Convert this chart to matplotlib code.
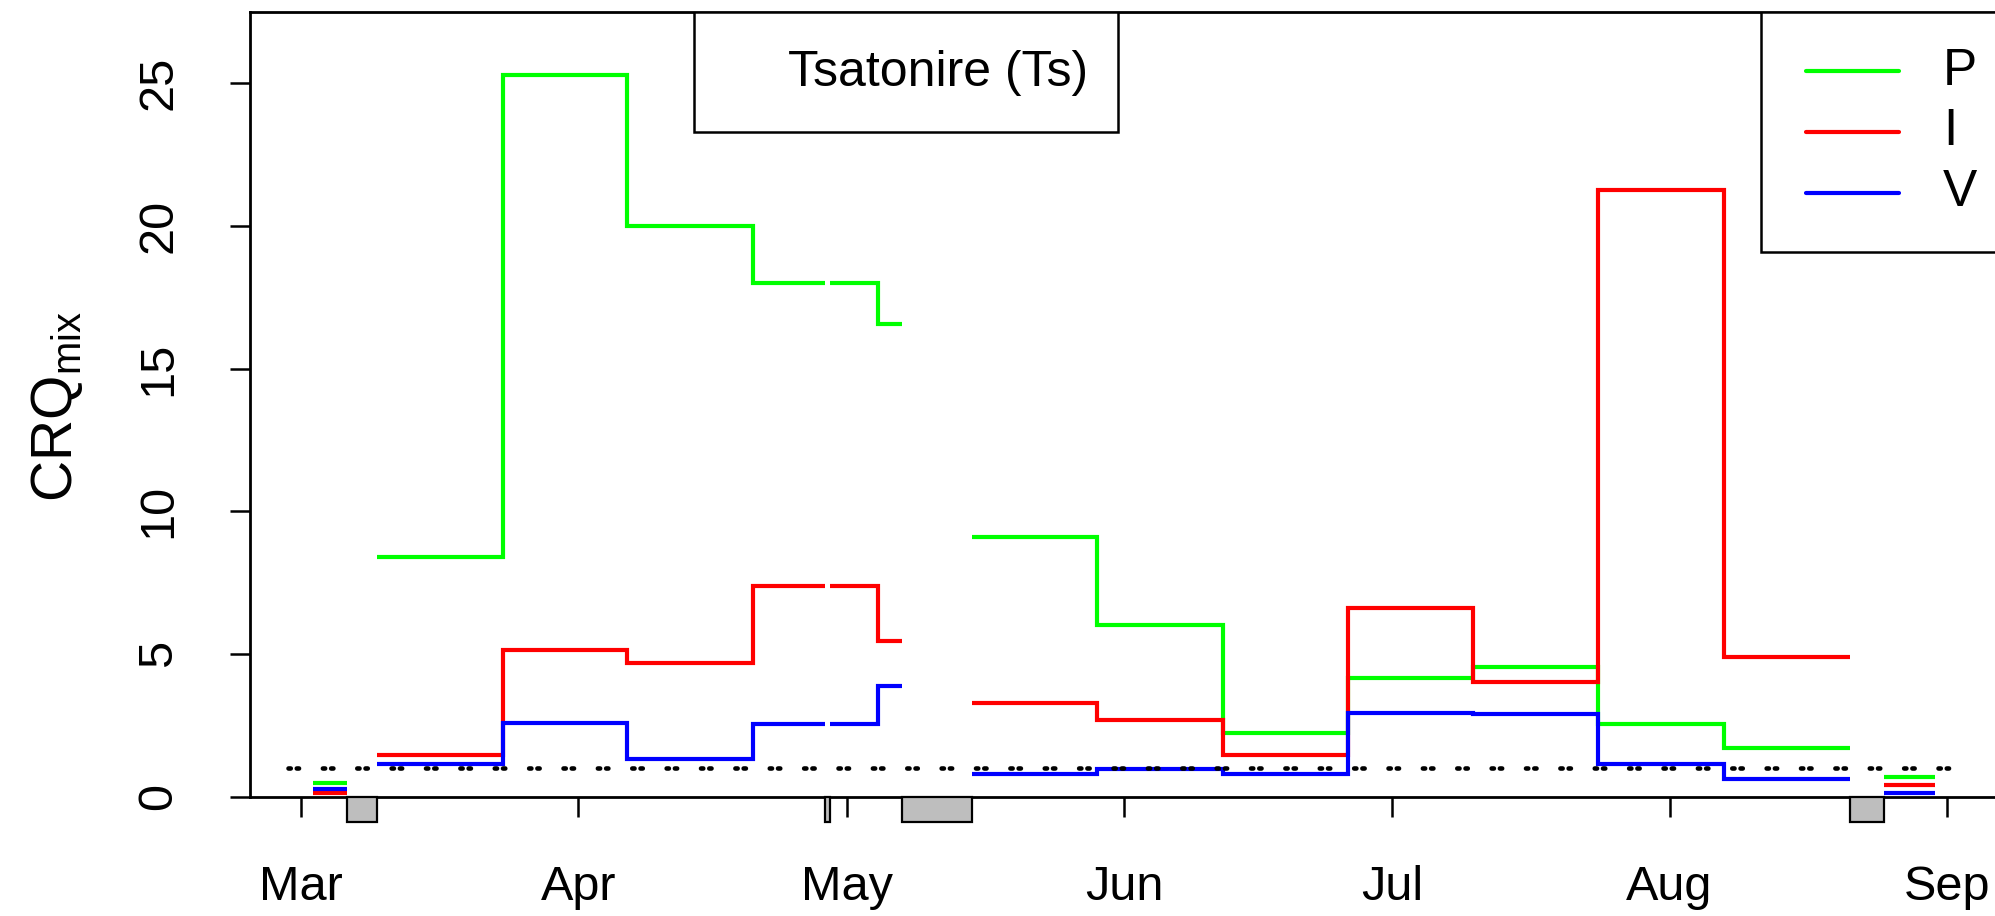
import numpy as np
import matplotlib
matplotlib.use('Agg')
import matplotlib.pyplot as plt
import matplotlib.dates as mdates
from matplotlib.patches import Rectangle

plt.rcParams['font.family'] = ['Liberation Sans', 'DejaVu Sans']
plt.rcParams['mathtext.fontset'] = 'custom'
plt.rcParams['mathtext.rm'] = 'Liberation Sans'
plt.rcParams['mathtext.it'] = 'Liberation Sans:italic'

season_start = np.datetime64('2019-03-01')

# sampling periods in days since 1 March; each block is an unbroken run of periods
block_edges = [
    [1.4, 5.2],
    [8.45, 22.6, 36.5, 50.55, 58.6],
    [59.1, 64.5, 67.2],
    [75.0, 89.05, 103.06, 117.0, 131.07, 145.04, 159.09, 173.18],
    [176.97, 182.64],
]
crq_P = [[0.48], [8.39, 25.27, 20.0, 17.99], [17.99, 16.56],
         [9.11, 6.02, 2.24, 4.15, 4.55, 2.54, 1.70], [0.68]]
crq_I = [[0.12], [1.47, 5.15, 4.67, 7.37], [7.37, 5.44],
         [3.29, 2.69, 1.46, 6.62, 4.03, 21.25, 4.91], [0.41]]
crq_V = [[0.28], [1.15, 2.59, 1.31, 2.53], [2.53, 3.86],
         [0.79, 0.98, 0.79, 2.94, 2.88, 1.13, 0.62], [0.14]]

series_names = ['P', 'I', 'V']
series_colors = ['#00FF00', '#FF0000', '#0000FF']

threshold = 1.0
threshold_days = [-1.5, 185.5]
site_name = 'Tsatonire (Ts)'

x0 = mdates.date2num(season_start)

fig = plt.figure(figsize=(19.95, 9.16), dpi=100)
ax = fig.add_axes([0.1253, 0.1303, 0.877, 0.8569])

for vals, col in zip([crq_P, crq_I, crq_V], series_colors):
    for edges, v in zip(block_edges, vals):
        ax.stairs(v, x0 + np.array(edges), baseline=None, color=col, lw=3.0)

# gaps in the sampling shown as grey boxes below the axis
for prev, nxt in zip(block_edges[:-1], block_edges[1:]):
    ax.add_patch(Rectangle((x0 + prev[-1], -0.9), nxt[0] - prev[-1], 0.9,
                           facecolor='#BEBEBE', edgecolor='black', lw=1.6,
                           clip_on=False, zorder=3))

ax.plot(x0 + np.array(threshold_days), [threshold, threshold], color='black',
        lw=3.3, linestyle=(0, (0.5, 1.3, 0.5, 5.2)), dash_capstyle='round')

ax.set_xlim(x0 - 5.7, x0 + 189.9)
ax.set_ylim(0, 27.5)
ax.xaxis.set_major_locator(mdates.MonthLocator())
ax.xaxis.set_major_formatter(mdates.DateFormatter('%b'))
ax.set_yticks([0, 5, 10, 15, 20, 25])

ax.tick_params(direction='out', length=14.4, width=1.8, labelsize=35)
ax.tick_params(axis='x', pad=35)
ax.tick_params(axis='y', pad=35)
for lab in ax.get_yticklabels():
    lab.set_rotation(90)
    lab.set_va('center')
for sp in ax.spines.values():
    sp.set_linewidth(2)

ax.set_ylabel(r'CRQ$_{\mathrm{mix}}$', fontsize=41)
ax.yaxis.set_label_coords(-0.1103, 0.4964)
ax.yaxis.label.set_va('center')

# site box
ax.add_patch(Rectangle((0.2538, 0.8471), 0.2425, 0.1529, transform=ax.transAxes,
                       facecolor='white', edgecolor='black', lw=1.8, zorder=4))
ax.text(0.393, 0.9219, site_name, transform=ax.transAxes, fontsize=36,
        ha='center', va='center', zorder=5)

# legend box
ax.add_patch(Rectangle((0.8637, 0.6939), 0.1363, 0.3061, transform=ax.transAxes,
                       facecolor='white', edgecolor='black', lw=1.8, zorder=4))
for name, col, yy in zip(series_names, series_colors, [0.9244, 0.8471, 0.7694]):
    ax.plot([0.8892, 0.9426], [yy, yy], transform=ax.transAxes, color=col,
            lw=3.0, solid_capstyle='round', zorder=5)
    ax.text(0.9676, yy, name, transform=ax.transAxes, fontsize=37,
            ha='left', va='center', zorder=5)

fig.savefig('out.png', dpi=100)
